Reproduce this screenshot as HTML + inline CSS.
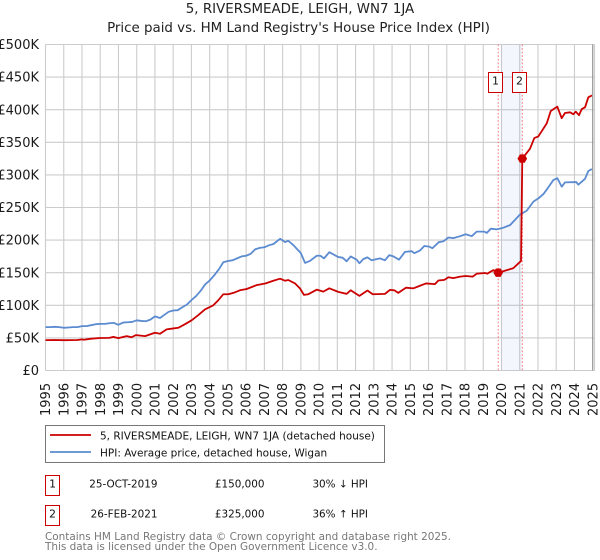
<!DOCTYPE html>
<html lang="en">
<head>
<meta charset="utf-8">
<title>5, RIVERSMEADE, LEIGH, WN7 1JA</title>
<style>
html,body{margin:0;padding:0;background:#fff;}
svg{display:block;font-family:"DejaVu Sans","Liberation Sans",sans-serif;}
</style>
</head>
<body>
<svg id="chart" xmlns="http://www.w3.org/2000/svg" width="600" height="560" viewBox="0 0 600 560">
  <rect x="0" y="0" width="600" height="560" fill="#fff"/>
  <text x="300" y="13" font-size="13.4" text-anchor="middle" fill="#222">5, RIVERSMEADE, LEIGH, WN7 1JA</text>
  <text x="298.5" y="32" font-size="13.4" text-anchor="middle" fill="#222">Price paid vs. HM Land Registry's House Price Index (HPI)</text>
  <g id="grid"></g>
  <g id="yticks"></g>
  <g id="xticks"></g>
  <g id="annotations"></g>
  <g id="series"></g>
  <g id="labels"></g>

  <g>
    <rect x="45.5" y="425.5" width="339" height="37" fill="#fff" stroke="#777" stroke-width="1"/>
    <line x1="50" y1="435" x2="91" y2="435" stroke="#cc0000" stroke-width="1.8"/>
    <text x="100" y="439.5" font-size="10.5" fill="#111">5, RIVERSMEADE, LEIGH, WN7 1JA (detached house)</text>
    <line x1="50" y1="452" x2="91" y2="452" stroke="#5b8bd0" stroke-width="1.8"/>
    <text x="100" y="456.5" font-size="10.5" fill="#111">HPI: Average price, detached house, Wigan</text>
  </g>

  <g>
    <rect x="45.5" y="475.5" width="14" height="20" fill="#fff" stroke="#cc0000" stroke-width="1"/>
    <text x="52.5" y="487.5" font-size="10.8" text-anchor="middle" fill="#111">1</text>
    <text x="157.5" y="487.5" font-size="10.4" text-anchor="end" fill="#111">25-OCT-2019</text>
    <text x="264.5" y="487.5" font-size="10.4" text-anchor="end" fill="#111">£150,000</text>
    <text x="368" y="487.5" font-size="10.4" text-anchor="end" fill="#111">30% ↓ HPI</text>
  </g>
  <g>
    <rect x="45.5" y="505.5" width="14" height="20" fill="#fff" stroke="#cc0000" stroke-width="1"/>
    <text x="52.5" y="517.5" font-size="10.8" text-anchor="middle" fill="#111">2</text>
    <text x="157.5" y="517.5" font-size="10.4" text-anchor="end" fill="#111">26-FEB-2021</text>
    <text x="264.5" y="517.5" font-size="10.4" text-anchor="end" fill="#111">£325,000</text>
    <text x="368" y="517.5" font-size="10.4" text-anchor="end" fill="#111">36% ↑ HPI</text>
  </g>
  <text x="45" y="540" font-size="10.45" fill="#777">Contains HM Land Registry data © Crown copyright and database right 2025.</text>
  <text x="45" y="550" font-size="10.45" fill="#777">This data is licensed under the Open Government Licence v3.0.</text>
</svg>
<script>
const yearTicks = [1995,1996,1997,1998,1999,2000,2001,2002,2003,2004,2005,2006,2007,2008,2009,2010,2011,2012,2013,2014,2015,2016,2017,2018,2019,2020,2021,2022,2023,2024,2025];
const valueTicks = [0,50,100,150,200,250,300,350,400,450,500];
const valueTickLabels = ['£0','£50K','£100K','£150K','£200K','£250K','£300K','£350K','£400K','£450K','£500K'];

const hpiDates = [1995,1995.25,1995.5,1995.75,1996,1996.25,1996.5,1996.75,1997,1997.25,1997.5,1997.75,1998,1998.25,1998.5,1998.75,1998.99,1999.25,1999.5,1999.75,2000,2000.25,2000.5,2000.75,2001,2001.28,2001.5,2001.75,2002,2002.25,2002.5,2002.75,2003,2003.25,2003.5,2003.75,2004,2004.25,2004.5,2004.75,2005,2005.25,2005.5,2005.75,2006,2006.25,2006.5,2006.75,2007,2007.25,2007.5,2007.86,2008.13,2008.31,2008.6,2008.8,2009,2009.23,2009.5,2009.87,2010.07,2010.27,2010.56,2011.05,2011.29,2011.51,2011.73,2012.06,2012.21,2012.43,2012.65,2012.88,2013.03,2013.34,2013.61,2013.85,2014.07,2014.38,2014.71,2015.08,2015.22,2015.53,2015.77,2016.04,2016.21,2016.57,2016.81,2017.09,2017.36,2017.73,2018.04,2018.37,2018.64,2019.06,2019.19,2019.42,2019.73,2020.05,2020.47,2020.74,2021.01,2021.38,2021.75,2022.07,2022.31,2022.57,2022.84,2023.06,2023.3,2023.48,2024.1,2024.21,2024.58,2024.76,2024.96];
const hpiValues = [66.5,66.5,67,66.5,65.5,66,66.5,66.5,68,68,69.5,71,71.5,71.5,72.5,73,70,73.5,74,74.5,77,76,75.5,78,83,80.5,85,90,92,92.5,97,101,108,114,122,132,138,146,155,166,168,169,172,175,176,179,186,188,189,192,194,202,197,199,192,186,180,165,168,176,176,172,181.5,174,173,167.5,175,170,164.5,171,173.5,169,170,172,169,177,175,170,182,183,180,184,191,190,187.5,197,198,204,203,206,209,206,213,213,211,217.5,216.5,218.5,223,231,239,245,259,265,271,281,292,295,282,288.5,289,285,294,306,309];

const priceDates = [1995,1995.5,1996,1996.75,1997,1997.1,1997.5,1998,1998.5,1998.72,1998.99,1999.45,1999.72,1999.96,2000.46,2001,2001.28,2001.64,2002.01,2002.28,2002.65,2003.01,2003.38,2003.74,2004.2,2004.48,2004.75,2005.02,2005.3,2005.66,2006.03,2006.58,2007.07,2007.49,2007.86,2008.13,2008.31,2008.68,2008.95,2009.17,2009.41,2009.87,2010.23,2010.56,2011.05,2011.51,2011.73,2012.21,2012.65,2012.94,2013.61,2013.89,2014.12,2014.34,2014.76,2015.17,2015.44,2015.86,2016.35,2016.54,2016.87,2017.09,2017.36,2017.73,2018.04,2018.42,2018.64,2019.1,2019.22,2019.55,2019.82,2020.14,2020.65,2021.07,2021.14,2021.56,2021.8,2022.02,2022.48,2022.7,2023.06,2023.3,2023.48,2023.76,2023.94,2024.07,2024.25,2024.4,2024.58,2024.76,2024.96];
const priceValues = [46.6,46.8,46.5,46.8,47.8,47.2,48.8,49.8,50,51.5,49.7,52.7,51,54.3,52.7,57.9,56.3,63,64.5,65.5,71,77,85,93.7,100,108,117,117,119,123,125,131,133.6,137.7,140.8,137.7,138.8,133.6,126,116,117,124,121,126,120.6,117.5,123,114.4,122.7,117,117.5,123.7,123,119,127,126,129,133.5,132.5,138,139,143,141.7,144,145,144,148.5,149.5,148.5,154,150,152.6,157,168,325,340,356.5,359,379,398,404.7,387,395,396,393,397,391.6,401,403.7,419,422];

const saleDates = [2019.82,2021.14];
const salePrices = [150,325];
const saleNumbers = ['1','2'];
const bandStart = 2020;

const NS = 'http://www.w3.org/2000/svg';
const X0 = 45.5, X1 = 592.7, Y0 = 370.5, Y1 = 44.5, RIGHT = 594.5;
function xScale(year){ return X0 + (year - yearTicks[0]) / (yearTicks[yearTicks.length-1] - yearTicks[0]) * (X1 - X0); }
function yScale(v){ return Y0 - v / valueTicks[valueTicks.length-1] * (Y0 - Y1); }
function make(tag, parent, attrs, text){
  const el = document.createElementNS(NS, tag);
  for (const k in attrs) el.setAttribute(k, attrs[k]);
  if (text !== undefined) el.textContent = text;
  parent.appendChild(el);
  return el;
}
const grid = document.getElementById('grid');
const yG = document.getElementById('yticks');
const xG = document.getElementById('xticks');
const annG = document.getElementById('annotations');
const serG = document.getElementById('series');
const labG = document.getElementById('labels');

valueTicks.forEach((v,i)=>{
  const l = make('line', grid, {x1:X0,x2:RIGHT,y1:yScale(v),y2:yScale(v),stroke:'#cccccc','stroke-width':1.1});
  
  
  const t = make('text', yG, {x:39,y:yScale(v)+4.6,'font-size':13,'text-anchor':'end',fill:'#1a1a1a'}, valueTickLabels[i]);
  
  
});
yearTicks.forEach((yr)=>{
  const x = xScale(yr);
  const l = make('line', grid, {x1:x,x2:x,y1:Y1,y2:Y0,stroke:'#cccccc','stroke-width':1.1});
  
  
  const t = make('text', xG, {transform:'translate('+(x+4.6)+',416) rotate(-90)','font-size':13,fill:'#1a1a1a'}, String(yr));
  
  
});
const rightEdge = make('line', grid, {x1:RIGHT,x2:RIGHT,y1:Y1,y2:Y0,stroke:'#cccccc','stroke-width':1.1});


const endLine = make('line', grid, {x1:X1,x2:X1,y1:Y1,y2:Y0,stroke:'#999999','stroke-width':1.2});



const band = make('rect', annG, {x:xScale(bandStart),y:Y1,width:xScale(saleDates[1])-xScale(bandStart),height:Y0-Y1,fill:'#4169e1','fill-opacity':0.06});


saleDates.forEach((d)=>{
  const l = make('line', annG, {x1:xScale(d),x2:xScale(d),y1:Y1,y2:Y0,stroke:'#ff5a5f','stroke-width':1,'stroke-dasharray':'1.6 2','stroke-opacity':0.85});
  
  
});

function pathFrom(dates, values){
  return dates.map((d,i)=>(i?'L':'M')+xScale(d).toFixed(2)+' '+yScale(values[i]).toFixed(2)).join(' ');
}
const hpiLine = make('path', serG, {d:pathFrom(hpiDates,hpiValues),fill:'none',stroke:'#5b8bd0','stroke-width':1.8,'stroke-linejoin':'round'});


const priceLine = make('path', serG, {d:pathFrom(priceDates,priceValues),fill:'none',stroke:'#cc0000','stroke-width':1.8,'stroke-linejoin':'round'});



saleDates.forEach((d,i)=>{
  const x = xScale(d), y = yScale(salePrices[i]);
  const m = make('path', serG, {d:'M'+(x-4.8)+' '+y+' L'+(x-2.4)+' '+(y-4.2)+' L'+(x+2.4)+' '+(y-4.2)+' L'+(x+4.8)+' '+y+' L'+(x+2.4)+' '+(y+4.2)+' L'+(x-2.4)+' '+(y+4.2)+' Z',fill:'#cc0000'});
  
  
  const bx = Math.round(x - 10);
  const b = make('rect', labG, {x:bx+0.5,y:72.5,width:14,height:20,fill:'#fff',stroke:'#cc0000','stroke-width':1});
  
  
  const t = make('text', labG, {x:bx+7.5,y:84.5,'font-size':11,'text-anchor':'middle',fill:'#111'}, saleNumbers[i]);
  
  
});
</script>
</body>
</html>
